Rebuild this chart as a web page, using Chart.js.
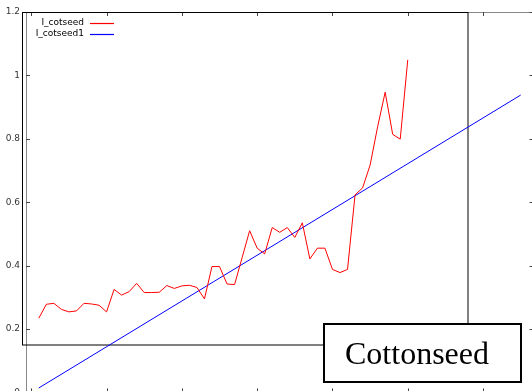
<!DOCTYPE html>
<html>
<head>
<meta charset="utf-8">
<script src="https://cdn.jsdelivr.net/npm/chart.js@4/dist/chart.umd.min.js"></script>
<style>
  html, body { margin: 0; padding: 0; background: #fff; overflow: hidden; width: 532px; height: 391px; }
  #c { position: absolute; left: 0; top: 0; }
</style>
</head>
<body>
<canvas id="c" width="545" height="410"></canvas>
<script>
// ---- data ----
const seriesNames = ['I_cotseed', 'I_cotseed1'];
const seriesColors = ['#ff0000', '#0000ff'];
const cotseedX = [1,2,3,4,5,6,7,8,9,10,11,12,13,14,15,16,17,18,19,20,21,22,23,24,25,26,27,28,29,30,31,32,33,34,35,36,37,38,39,40,41,42,43,44,45,46,47,48,49,50];
const cotseedY = [0.234,0.278,0.281,0.262,0.254,0.257,0.281,0.279,0.275,0.254,
                  0.325,0.307,0.318,0.344,0.315,0.315,0.316,0.337,0.328,0.336,
                  0.338,0.331,0.295,0.397,0.397,0.342,0.340,0.425,0.510,0.455,
                  0.437,0.520,0.505,0.520,0.489,0.535,0.421,0.455,0.455,0.388,
                  0.378,0.388,0.623,0.645,0.717,0.838,0.947,0.814,0.799,1.049];
const fitX = [1, 65];
const fitY = [0.014, 0.938];
const yTickValues = [0, 0.2, 0.4, 0.6, 0.8, 1, 1.2];
const yTickLabels = ['0', '0.2', '0.4', '0.6', '0.8', '1', '1.2'];
const xTickValues = [0, 10, 20, 30, 40, 50, 60];
const boxLabel = 'Cottonseed';

const toPts = (xs, ys) => xs.map((x, i) => ({ x: x, y: ys[i] }));

const decor = {
  id: 'decor',
  beforeDatasetsDraw(chart) {
    const ctx = chart.ctx;
    const a = chart.chartArea;
    ctx.save();
    // gnuplot frame
    ctx.strokeStyle = '#888';
    ctx.lineWidth = 1;
    ctx.strokeRect(Math.round(a.left) + 0.5, Math.round(a.top) + 0.5,
                   Math.round(a.right - a.left), Math.round(a.bottom - a.top));
    // inward ticks
    ctx.strokeStyle = '#444';
    const ys = chart.scales.y, xs = chart.scales.x;
    yTickValues.forEach(v => {
      const py = Math.round(ys.getPixelForValue(v)) + 0.5;
      ctx.beginPath();
      ctx.moveTo(a.left, py); ctx.lineTo(a.left + 4, py);
      ctx.moveTo(a.right, py); ctx.lineTo(a.right - 4, py);
      ctx.stroke();
    });
    xTickValues.forEach(v => {
      const px = Math.round(xs.getPixelForValue(v)) + 0.5;
      ctx.beginPath();
      ctx.moveTo(px, a.top); ctx.lineTo(px, a.top + 4);
      ctx.moveTo(px, a.bottom); ctx.lineTo(px, a.bottom - 4);
      ctx.stroke();
    });
    // inner black rectangle
    ctx.strokeStyle = '#000';
    ctx.lineWidth = 1;
    ctx.strokeRect(22.5, 12.5, 445.5, 332.5);
    ctx.restore();
  },
  afterDraw(chart) {
    const ctx = chart.ctx;
    ctx.save();
    // legend
    ctx.font = '9px "DejaVu Sans"';
    ctx.textAlign = 'right';
    ctx.textBaseline = 'middle';
    seriesNames.forEach((name, i) => {
      const y = 22.5 + i * 11.5;
      ctx.fillStyle = '#000';
      ctx.fillText(name, 84, y);
      ctx.strokeStyle = seriesColors[i];
      ctx.lineWidth = 1.2;
      ctx.beginPath();
      ctx.moveTo(90, Math.round(y) + 0.5);
      ctx.lineTo(114, Math.round(y) + 0.5);
      ctx.stroke();
    });
    // label box
    ctx.fillStyle = '#fff';
    ctx.fillRect(324, 324, 197, 58);
    ctx.strokeStyle = '#000';
    ctx.lineWidth = 2;
    ctx.strokeRect(324, 324, 197, 58);
    ctx.fillStyle = '#000';
    ctx.font = '32px "Liberation Serif"';
    ctx.textAlign = 'left';
    ctx.textBaseline = 'alphabetic';
    ctx.fillText(boxLabel, 345, 364);
    ctx.restore();
  }
};

new Chart(document.getElementById('c'), {
  type: 'line',
  data: {
    datasets: [
      { label: seriesNames[0], data: toPts(cotseedX, cotseedY), borderColor: seriesColors[0], borderWidth: 1, pointRadius: 0, tension: 0, fill: false },
      { label: seriesNames[1], data: toPts(fitX, fitY), borderColor: seriesColors[1], borderWidth: 1, pointRadius: 0, tension: 0, fill: false }
    ]
  },
  options: {
    responsive: false,
    animation: false,
    devicePixelRatio: 1,
    layout: { padding: { left: 0, top: 12, right: 11.5, bottom: 17.6 } },
    plugins: { legend: { display: false }, tooltip: { enabled: false } },
    scales: {
      x: { type: 'linear', min: -0.7, max: 66.7, display: false },
      y: {
        type: 'linear', min: 0, max: 1.2,
        afterFit: s => { s.width = 26; },
        afterBuildTicks: s => { s.ticks = yTickValues.map(v => ({ value: v })); },
        grid: { display: false, drawTicks: false },
        border: { display: false },
        ticks: {
          padding: 6,
          color: '#333',
          font: { family: 'DejaVu Sans', size: 9 },
          callback: (v) => { const i = yTickValues.findIndex(t => Math.abs(t - v) < 1e-9); return i >= 0 ? yTickLabels[i] : ''; }
        }
      }
    }
  },
  plugins: [decor]
});
</script>
</body>
</html>
